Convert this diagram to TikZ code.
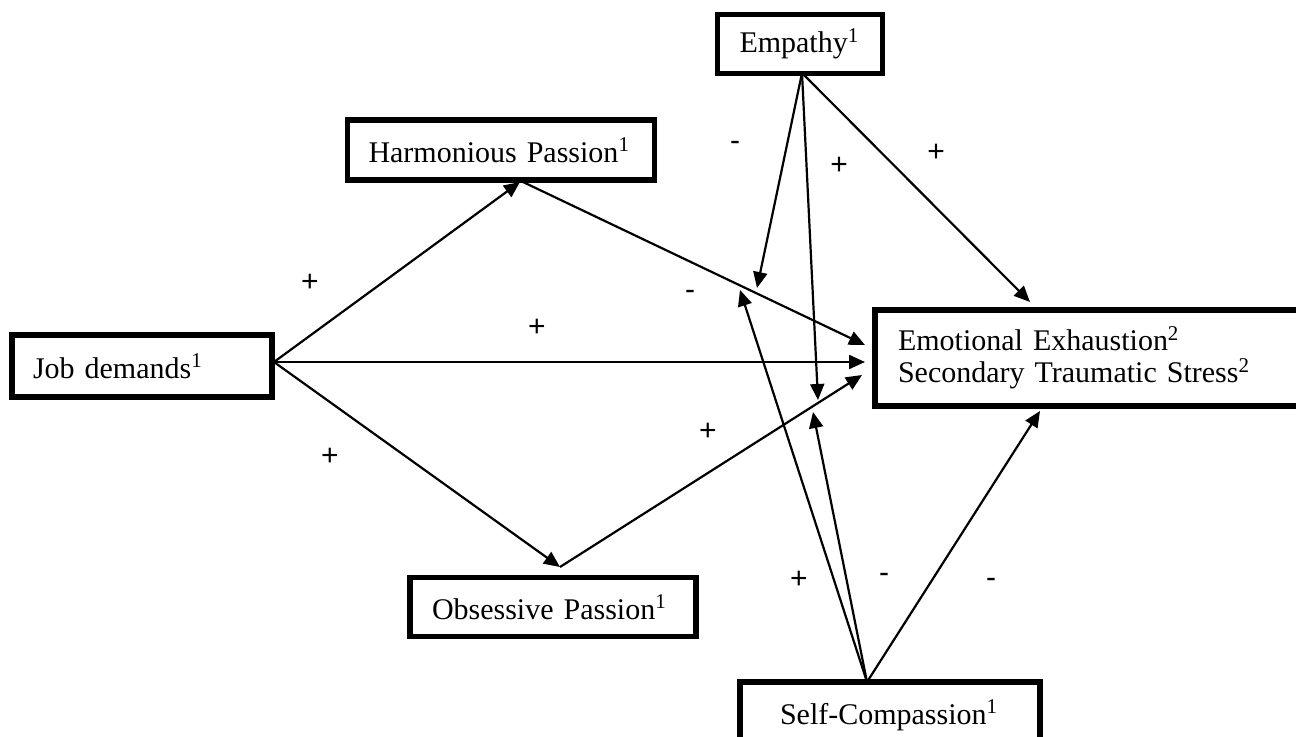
\documentclass[tikz,border=0pt]{standalone}
\usepackage{fontspec}
\setmainfont{Liberation Serif}
\newfontfamily\signfont{Liberation Sans}
\usetikzlibrary{arrows.meta}

\begin{document}
\begin{tikzpicture}[%
	x=0.5pt,y=-0.5pt,
	every node/.style={
		font=\fontsize{15}{16}\selectfont,
	},
	box/.style={draw, line width=2.6pt, rectangle, align=left},
	sign/.style={font=\signfont\fontsize{15}{16}\selectfont},
	path/.style={-{Triangle[length=8pt,width=7pt]}, line width=1.1pt},
	]
	\useasboundingbox (0,0) rectangle (1296,737);
	\clip (0,0) rectangle (1296,737);
	
	% draw boxes
	\node[box, minimum width=82.5pt, minimum height=29.5pt, inner xsep=11pt, text width=60.5pt] (emp) at (800,44) {Empathy\textsuperscript{1}};
	\node[box, minimum width=153.5pt, minimum height=30pt, inner xsep=10.5pt, text width=132.5pt] (hp) at (501,150) {Harmonious Passion\textsuperscript{1}};
	\node[box, minimum width=130pt, minimum height=31pt, inner xsep=10.5pt, text width=109pt] (job) at (142,366) {Job demands\textsuperscript{1}};
	\node[box, minimum width=220pt, minimum height=48pt, inner xsep=11.5pt, text width=197pt] (ee) at (1095,358) {Emotional Exhaustion\textsuperscript{2}\\Secondary Traumatic Stress\textsuperscript{2}};
	\node[box, minimum width=143pt, minimum height=29.5pt, inner xsep=11pt, text width=121pt] (op) at (553,607) {Obsessive Passion\textsuperscript{1}};
	\node[box, minimum width=150pt, minimum height=39pt, inner xsep=20pt, text width=110pt, text height=10pt, text depth=7pt] (sc) at (890,721) {Self-Compassion\textsuperscript{1}};
	
	% arrow ends
	\coordinate (jd) at (274,362);
	\coordinate (hpin) at (520,182);
	\coordinate (hpout) at (523,182);
	\coordinate (opv) at (560,567);
	\coordinate (ee1) at (865,345);
	\coordinate (ee2) at (865,362);
	\coordinate (ee3) at (862,375);
	\coordinate (eetop) at (1030,302);
	\coordinate (eebot) at (1040,411);
	\coordinate (emo) at (802,73);
	\coordinate (sco) at (867,682);
	\coordinate (mod1) at (757,288);
	\coordinate (mod2) at (818,400);
	\coordinate (mod3) at (740,290);
	\coordinate (mod4) at (813,412);
	
	% draw paths
	\draw[path] (jd) -- (hpin);
	\draw[path] (jd) -- (ee2);
	\draw[path] (jd) -- (opv);
	\draw[path] (hpout) -- (ee1);
	\draw[path] (opv) -- (ee3);
	\draw[path] (emo) -- (mod1);
	\draw[path] (emo) -- (mod2);
	\draw[path] (emo) -- (eetop);
	\draw[path] (sco) -- (mod3);
	\draw[path] (sco) -- (mod4);
	\draw[path] (sco) -- (eebot);
	
	% place signs
	\node[sign] (s1) at (310,283) {+};
	\node[sign] (s2) at (537,328) {+};
	\node[sign] (s3) at (330,457) {+};
	\node[sign] (s4) at (708,432) {+};
	\node[sign] (s5) at (735,146) {-};
	\node[sign] (s6) at (839,166) {+};
	\node[sign] (s7) at (936,153) {+};
	\node[sign] (s8) at (690,295) {-};
	\node[sign] (s9) at (799,580) {+};
	\node[sign] (s10) at (884,578) {-};
	\node[sign] (s11) at (991,583) {-};
\end{tikzpicture}
\end{document}
